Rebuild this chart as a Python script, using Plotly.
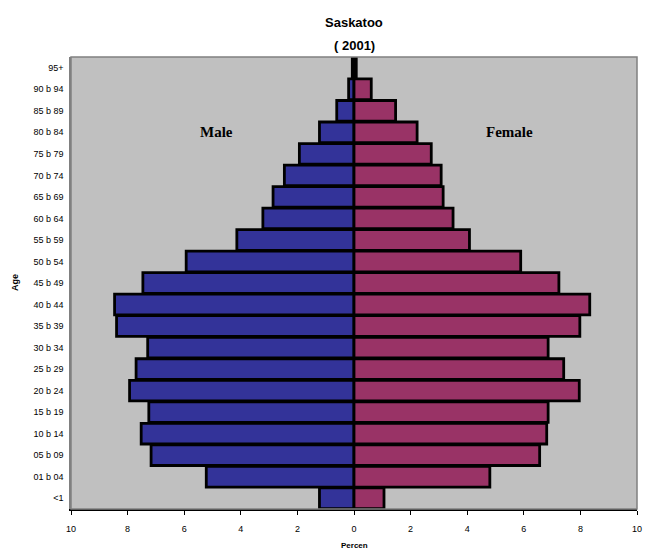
import plotly.graph_objects as go

ages = ["<1", "01 b 04", "05 b 09", "10 b 14", "15 b 19", "20 b 24", "25 b 29",
        "30 b 34", "35 b 39", "40 b 44", "45 b 49", "50 b 54", "55 b 59", "60 b 64",
        "65 b 69", "70 b 74", "75 b 79", "80 b 84", "85 b 89", "90 b 94", "95+"]
male = [1.22, 5.22, 7.17, 7.52, 7.25, 7.93, 7.70, 7.29, 8.39, 8.46, 7.46, 5.93,
        4.14, 3.22, 2.86, 2.46, 1.93, 1.22, 0.61, 0.19, 0.06]
female = [1.06, 4.80, 6.56, 6.81, 6.86, 7.96, 7.41, 6.86, 7.98, 8.33, 7.24, 5.89,
          4.08, 3.50, 3.15, 3.08, 2.73, 2.23, 1.47, 0.61, 0.08]
tick_vals = [-10, -8, -6, -4, -2, 0, 2, 4, 6, 8, 10]
tick_text = ["10", "8", "6", "4", "2", "0", "2", "4", "6", "8", "10"]

FONT = "Arial, Liberation Sans, sans-serif"
SERIF = "Liberation Serif, Times New Roman, serif"

fig = go.Figure()
fig.add_trace(go.Bar(
    y=ages, x=[-v for v in male], orientation="h", name="Male",
    marker=dict(color="#333399", line=dict(color="black", width=2.8)),
))
fig.add_trace(go.Bar(
    y=ages, x=female, orientation="h", name="Female",
    marker=dict(color="#993366", line=dict(color="black", width=2.8)),
))

fig.update_layout(
    width=646, height=560,
    margin=dict(l=71, r=9, t=57, b=51),
    paper_bgcolor="white", plot_bgcolor="#C0C0C0",
    barmode="overlay", bargap=0.04,
    showlegend=False,
    font=dict(family=FONT, color="black"),
    xaxis=dict(
        range=[-10, 10], tickvals=tick_vals, ticktext=tick_text,
        showgrid=False, zeroline=False,
        showline=True, linecolor="black", linewidth=1.5,
        ticks="outside", ticklen=4, tickcolor="black",
        tickfont=dict(size=9, family=FONT),
        ticklabelstandoff=6, automargin=False, ticklabeloverflow="allow",
    ),
    yaxis=dict(
        categoryorder="array", categoryarray=ages,
        showgrid=False, zeroline=False,
        showline=True, linecolor="#808080", linewidth=1.5,
        ticks="", tickfont=dict(size=9, family=FONT),
        ticklabelstandoff=4, automargin=False,
    ),
    shapes=[dict(type="rect", xref="paper", yref="paper", x0=0, x1=1, y0=0, y1=1,
                 line=dict(color="#808080", width=1.5), layer="above")],
    annotations=[
        dict(text="<b>Saskatoo</b>", xref="paper", yref="paper", x=0.5, y=1.0, yshift=35,
             yanchor="middle", showarrow=False, font=dict(size=13, family=FONT)),
        dict(text="<b>( 2001)</b>", xref="paper", yref="paper", x=0.5, y=1.0, yshift=12,
             yanchor="middle", showarrow=False, font=dict(size=13, family=FONT)),
        dict(text="<b>Male</b>", x=-4.85, y="80 b 84", showarrow=False,
             font=dict(size=15, family=SERIF)),
        dict(text="<b>Female</b>", x=5.5, y="80 b 84", showarrow=False,
             font=dict(size=15, family=SERIF)),
        dict(text="<b>Age</b>", xref="paper", yref="paper", x=0, xshift=-63, y=0.5,
             yanchor="middle", textangle=-90, showarrow=False, font=dict(size=9, family=FONT)),
        dict(text="<b>Percen</b>", xref="paper", yref="paper", x=0.5, y=0, yshift=-36,
             yanchor="middle", showarrow=False, font=dict(size=8, family=FONT)),
    ],
)

# remove the page's default body margin so the figure fills the window exactly
fig.write_html(
    "out.html",
    config={"displayModeBar": False},
    post_script="document.body.style.margin='0';document.body.style.overflow='hidden';",
)
